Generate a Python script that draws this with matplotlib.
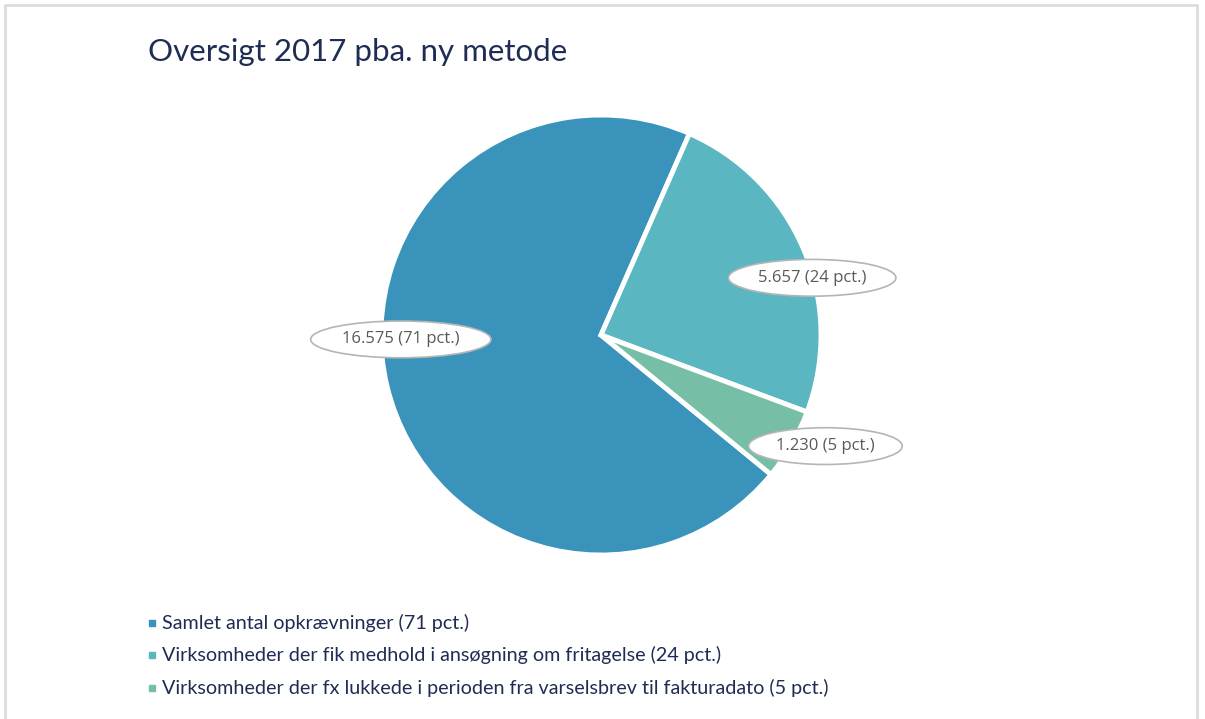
import matplotlib
matplotlib.use("Agg")
import matplotlib.pyplot as plt
from matplotlib.patches import Rectangle

title = "Oversigt 2017 pba. ny metode"
categories = [
    "Samlet antal opkrævninger (71 pct.)",
    "Virksomheder der fik medhold i ansøgning om fritagelse (24 pct.)",
    "Virksomheder der fx lukkede i perioden fra varselsbrev til fakturadato (5 pct.)",
]
values = [16575, 5657, 1230]
value_labels = ["16.575 (71 pct.)", "5.657 (24 pct.)", "1.230 (5 pct.)"]
colors = ["#3993BB", "#5AB6C0", "#76BEA6"]

W, H = 1205, 719
fig = plt.figure(figsize=(W / 100, H / 100), dpi=100)
fig.patch.set_facecolor("white")

# frame
fig.add_artist(Rectangle((5 / W, -0.01), (1197 - 5) / W, (H - 5) / H + 0.01,
                         transform=fig.transFigure, fill=False,
                         ec="#dcdcdc", lw=2))

cx, cy, r = 601, 335, 220
ax = fig.add_axes([(cx - r) / W, (H - cy - r) / H, 2 * r / W, 2 * r / H])

total = sum(values)
start = 66.3 + 360 * values[0] / total
wedges, _ = ax.pie(values, colors=colors, startangle=start, counterclock=False,
                   radius=1, wedgeprops=dict(edgecolor="white", linewidth=3.5))
ax.set_xlim(-1, 1)
ax.set_ylim(-1, 1)
ax.set_aspect("equal")
ax.axis("off")

label_pos = [(-0.91, -0.02), (0.96, 0.26), (1.02, -0.505)]
for (x, y), t in zip(label_pos, value_labels):
    ax.text(x, y, t, ha="center", va="center", fontsize=12, color="#595959",
            family="Open Sans", clip_on=False,
            bbox=dict(boxstyle="ellipse,pad=0.3", fc="white", ec="#b5b5b5", lw=1.2))

fig.text(148 / W, 1 - 52 / H, title, ha="left", va="center", fontsize=22.5,
         color="#1f2d54", family="Lato")

rows = [623, 655, 688]
for y, c, lab in zip(rows, colors, categories):
    fig.add_artist(Rectangle((149 / W, 1 - (y + 3) / H), 6 / W, 6 / H,
                             transform=fig.transFigure, color=c))
    fig.text(162 / W, 1 - y / H, lab, ha="left", va="center", fontsize=14.2,
             color="#1f2d54", family="Lato")

fig.savefig("out.png", dpi=100)
